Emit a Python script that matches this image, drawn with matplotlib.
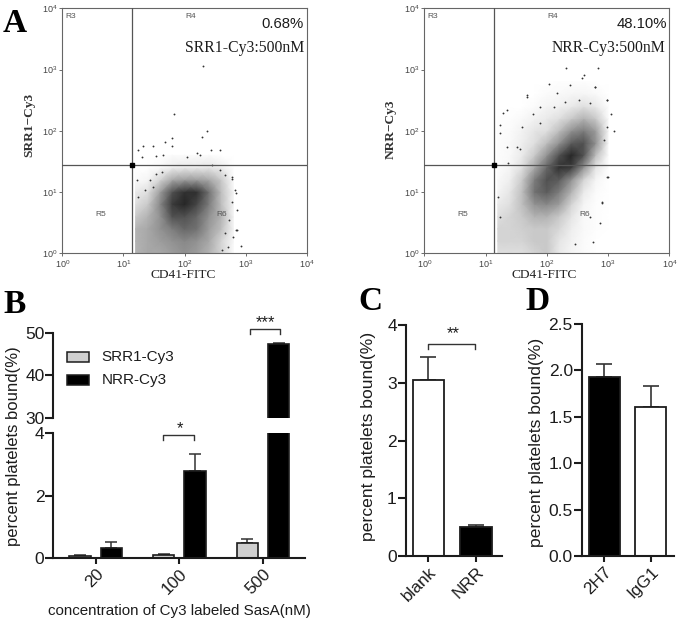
import numpy as np
import matplotlib
matplotlib.use("Agg")
import matplotlib.pyplot as plt
from matplotlib.colors import LinearSegmentedColormap
from matplotlib.patches import Rectangle

W, H = 678, 623
SANS = "Liberation Sans"
SERIF = "Liberation Serif"
INK = "#1c1c1c"

# ---- Panel A: the thousands of flow-cytometry dots cannot be read one by one, so
# the dense clouds are drawn as darkness estimated by eye per grid node (log10 units);
# only the isolated dots around the clouds are listed individually.
a1_log_x = [1.2, 1.4, 1.6, 1.8, 2.0, 2.2, 2.4, 2.6, 2.8]
a1_log_y = [0, .2, .4, .6, .8, 1.0, 1.2, 1.4, 1.6]
a1_density = [
    [.35, .40, .40, .45, .50, .45, .35, .20, .02],
    [.35, .40, .45, .50, .55, .50, .40, .20, .03],
    [.35, .40, .50, .60, .70, .65, .45, .30, .05],
    [.25, .35, .50, .80, .80, .70, .50, .35, .05],
    [.15, .25, .55, .90, 1.0, .85, .60, .30, .05],
    [.10, .15, .45, .80, .95, .95, .65, .30, .05],
    [.02, .05, .20, .40, .45, .45, .40, .25, .02],
    [.00, .00, .03, .08, .10, .10, .12, .08, .00],
    [.00, .00, .00, .02, .02, .02, .02, .00, .00],
]
a1_stray_x = [2.31, 1.82, 2.37, 2.28, 1.79, 1.68, 1.32, 1.49, 1.79, 1.65, 1.24, 2.04, 2.20, 2.44, 2.58,
              2.25, 1.54, 1.30, 2.85, 2.92, 2.77, 2.85,
              2.77, 2.83, 2.78, 2.86, 2.73, 2.80, 2.86, 2.66, 2.72, 2.61,
              1.23, 1.35, 1.24, 1.43, 1.54, 1.63, 1.49, 2.58, 2.66, 2.45]
a1_stray_y = [3.05, 2.27, 1.99, 1.90, 1.89, 1.82, 1.76, 1.76, 1.76, 1.61, 1.69, 1.58, 1.63, 1.69, 1.69,
              1.61, 1.59, 1.58, .38, .12, 1.25, .98,
              1.22, 1.03, .84, .71, .54, .27, .38, .33, .11, .05,
              1.20, 1.03, .92, 1.20, 1.30, 1.33, 1.09, 1.36, 1.28, 1.44]

a2_log_x = [1.2, 1.4, 1.6, 1.8, 2.0, 2.2, 2.4, 2.6, 2.8, 3.0]
a2_log_y = [0, .2, .4, .6, .8, 1.0, 1.2, 1.4, 1.6, 1.8, 2.0, 2.2, 2.4, 2.6, 2.8]
a2_density = [
    [.15, .15, .15, .20, .25, .10, .05, .02, .00, .00],
    [.20, .20, .20, .25, .25, .12, .06, .02, .00, .00],
    [.20, .20, .22, .25, .25, .18, .08, .03, .01, .00],
    [.15, .20, .25, .35, .35, .25, .12, .03, .01, .00],
    [.10, .15, .30, .50, .55, .45, .20, .05, .01, .00],
    [.05, .12, .30, .65, .75, .60, .35, .10, .02, .00],
    [.03, .08, .25, .60, .80, .75, .50, .20, .04, .00],
    [.01, .05, .15, .40, .70, .95, .90, .50, .12, .01],
    [.01, .03, .10, .25, .50, .80, 1.0, .80, .30, .02],
    [.01, .03, .08, .15, .30, .50, .75, .80, .50, .04],
    [.01, .02, .06, .12, .15, .30, .50, .60, .45, .05],
    [.01, .01, .03, .06, .10, .15, .25, .35, .25, .03],
    [.00, .00, .00, .02, .05, .06, .10, .15, .10, .01],
    [.00, .00, .00, .00, .02, .03, .04, .05, .03, .00],
    [.00, .00, .00, .00, .00, .01, .01, .01, .00, .00],
]
a2_stray_x = [2.32, 2.84, 2.58, 2.79, 2.98, 3.09, 2.90, 3.00, 1.24, 1.29, 1.67, 2.16, 1.89, 1.51, 2.76,
              1.35, 1.24, 1.67, 2.03, 2.38, 2.60, 2.79, 2.98, 3.04, 2.98, 2.93, 2.98, 2.90, 2.87,
              2.71, 2.46, 1.21, 1.24, 1.35, 1.57, 1.78, 1.89, 2.11, 2.30, 2.52, 2.71, 1.37, 1.59]
a2_stray_y = [3.02, 3.02, 2.86, 2.71, 2.51, 1.99, .84, 1.25, 1.96, 2.29, 2.56, 2.61, 2.39, 1.74, .19,
              2.34, 2.09, 2.58, 2.77, 2.74, 2.91, 2.72, 2.50, 2.28, 2.07, 1.85, 1.25, .82, .49,
              .60, .16, .92, .60, 1.74, 1.71, 2.28, 2.12, 2.39, 2.47, 2.50, 2.45, 1.47, 2.07]

gate_log_x = 1.146
gate_log_y = 1.44
decades = [1, 10, 100, 1000, 10000]

# ---- Panel B
b_groups = ["20", "100", "500"]
b_srr = [.06, .08, .46]
b_srr_err = [.02, .03, .13]
b_nrr = [.30, 2.80, 47.5]
b_nrr_err = [.19, .53, .30]
b_upper_ticks = [30, 40, 50]
b_lower_ticks = [0, 2, 4]

# ---- Panel C
c_labels = ["blank", "NRR"]
c_vals = [3.05, .51]
c_errs = [.40, .03]
c_ticks = [0, 1, 2, 3, 4]

# ---- Panel D
d_labels = ["2H7", "IgG1"]
d_vals = [1.93, 1.60]
d_errs = [.135, .23]
d_ticks = [0, .5, 1.0, 1.5, 2.0, 2.5]

fig = plt.figure(figsize=(W / 100, H / 100), dpi=100, facecolor="white")


def axes_px(left, top, right, bottom):
    return fig.add_axes([left / W, 1 - bottom / H, (right - left) / W, (bottom - top) / H])


def text_px(x, y, s, **kw):
    kw.setdefault("color", INK)
    kw.setdefault("ha", "center")
    kw.setdefault("va", "center")
    return fig.text(x / W, 1 - y / H, s, **kw)


cloud_map = LinearSegmentedColormap.from_list("cloud", ["#ffffff", "#262626"])


def flow_panel(box, lx, ly, dens, sx, sy, ylab, ylab_x, ylab_y, pct, conc, r_pos, xlab_x, pct_r, conc_r):
    ax = axes_px(*box)
    ax.set_xscale("log")
    ax.set_yscale("log")
    ax.set_xlim(1, 1e4)
    ax.set_ylim(1, 1e4)
    X, Y = np.meshgrid(10.0 ** np.array(lx), 10.0 ** np.array(ly))
    ax.pcolormesh(X, Y, np.array(dens), cmap=cloud_map, vmin=0, vmax=1, shading="gouraud", zorder=1)
    ax.scatter(10.0 ** np.array(sx), 10.0 ** np.array(sy), s=1.8, c="#333333", linewidths=0, zorder=2)
    gx, gy = 10 ** gate_log_x, 10 ** gate_log_y
    ax.axvline(gx, color="#555555", lw=0.9, zorder=3)
    ax.axhline(gy, color="#555555", lw=0.9, zorder=3)
    ax.plot([gx], [gy], "s", ms=2.2, color="black", zorder=4)
    ax.set_xticks(decades)
    ax.set_yticks(decades)
    ax.minorticks_off()
    ax.tick_params(which="major", length=2.5, width=0.6, color="#555555", labelsize=6.5, labelcolor="#444444", pad=1)
    for tl in ax.get_xticklabels() + ax.get_yticklabels():
        tl.set_family(SANS)
    for s in ax.spines.values():
        s.set_color("#666666")
        s.set_linewidth(0.8)
    for (x, y, s) in r_pos:
        text_px(x, y, s, family=SANS, fontsize=6, color="#555555")
    text_px(pct_r, 24, pct, family=SANS, fontsize=10.7, ha="right")
    text_px(conc_r, 47.5, conc, family=SERIF, fontsize=11.3, ha="right")
    text_px(xlab_x, 275, "CD41-FITC", family=SERIF, fontsize=9.6, color="#222222")
    text_px(ylab_x, ylab_y, ylab, family=SERIF, fontsize=9.6, fontweight="bold", rotation=90, color="#333333")


flow_panel((62.3, 8.3, 306.7, 253.3), a1_log_x, a1_log_y, a1_density, a1_stray_x, a1_stray_y,
           "SRR1\u2212Cy3", 29, 125, "0.68%", "SRR1-Cy3:500nM",
           [(71, 16, "R3"), (191, 16, "R4"), (101, 214, "R5"), (222, 214, "R6")], 182.7, 304, 304)
flow_panel((424.3, 8.3, 669.3, 253.3), a2_log_x, a2_log_y, a2_density, a2_stray_x, a2_stray_y,
           "NRR\u2212Cy3", 391, 129, "48.10%", "NRR-Cy3:500nM",
           [(433, 16, "R3"), (553, 16, "R4"), (463, 214, "R5"), (585, 214, "R6")], 544, 667, 665)

SPINE = 1.5


def style_bar_axes(ax):
    ax.patch.set_alpha(0)
    for side in ("top", "right"):
        ax.spines[side].set_visible(False)
    for side in ("left", "bottom"):
        ax.spines[side].set_linewidth(SPINE)
        ax.spines[side].set_color(INK)
    ax.tick_params(axis="y", length=5.6, width=SPINE, color=INK, labelsize=12.5, labelcolor=INK, pad=0.8)
    ax.tick_params(axis="x", length=4.5, width=SPINE, color=INK, labelsize=12.3, labelcolor=INK, pad=1.5)
    for tl in ax.get_xticklabels() + ax.get_yticklabels():
        tl.set_family(SANS)


def rotate_xticks(ax):
    for tl in ax.get_xticklabels():
        tl.set_rotation(45)
        tl.set_ha("right")
        tl.set_va("top")
        tl.set_rotation_mode("anchor")
        tl.set_family(SANS)


def bracket(ax, x0, x1, y, tail):
    ax.plot([x0, x0, x1, x1], [y - tail, y, y, y - tail], color="#333333", lw=1.0, clip_on=False, zorder=5)


# ---- B: broken axis
B_LEFT, B_RIGHT = 53.3, 305
B_TICK0, B_STEP = 95.7, 83.6
b_xlim = ((B_LEFT - B_TICK0) / B_STEP, (B_RIGHT - B_TICK0) / B_STEP)
low = axes_px(B_LEFT, 433.3, B_RIGHT, 557.7)
up = axes_px(B_LEFT, 333.3, B_RIGHT, 417.7)
pos = np.arange(len(b_groups))
width, off = .257, .187
for ax in (low, up):
    ax.bar(pos - off, b_srr, width, color="#cfcfcf", edgecolor=INK, linewidth=1.2, zorder=2)
    ax.bar(pos + off, b_nrr, width, color="black", edgecolor=INK, linewidth=1.2, zorder=2)
    ax.set_xlim(*b_xlim)
for x, v, e in zip(pos - off, b_srr, b_srr_err):
    low.errorbar(x, v, yerr=[[0], [e]], color="#333333", capsize=4.2, elinewidth=1.1, capthick=1.1, zorder=1)
for x, v, e in zip(pos + off, b_nrr, b_nrr_err):
    (up if v > 4 else low).errorbar(x, v, yerr=[[0], [e]], color="#333333", capsize=4.2, elinewidth=1.1, capthick=1.1, zorder=1)
low.set_ylim(0, 4)
up.set_ylim(30, 50)
low.set_yticks(b_lower_ticks)
up.set_yticks(b_upper_ticks)
low.set_xticks(pos, b_groups)
up.set_xticks([])
style_bar_axes(low)
style_bar_axes(up)
up.spines["bottom"].set_visible(False)
rotate_xticks(low)
bracket(low, .80, 1.18, 3.94, .16)
bracket(up, 1.84, 2.20, 51.1, 1.2)
text_px(180, 429, "*", family=SANS, fontsize=12)
text_px(265.7, 323, "***", family=SANS, fontsize=12)
text_px(14, 446, "percent platelets bound(%)", family=SANS, fontsize=12, rotation=90)
text_px(179, 611, "concentration of Cy3 labeled SasA(nM)", family=SANS, fontsize=10.9)
for top, fc, lab in [(351.7, "#cfcfcf", "SRR1-Cy3"), (375, "black", "NRR-Cy3")]:
    fig.add_artist(Rectangle((66.7 / W, 1 - (top + 10) / H), 22.6 / W, 10 / H, transform=fig.transFigure,
                             facecolor=fc, edgecolor=INK, linewidth=1.1))
    text_px(101.7, top + 5, lab, family=SANS, fontsize=11, ha="left")


# ---- C and D
def two_bar(box, vals, errs, labels, ticks, ylim, colors, tick0, step, fmt):
    ax = axes_px(*box)
    p = np.arange(len(vals))
    ax.bar(p, vals, .66, color=colors, edgecolor=INK, linewidth=1.3, zorder=2)
    for x, v, e in zip(p, vals, errs):
        ax.errorbar(x, v, yerr=[[0], [e]], color="#333333", capsize=5.8, elinewidth=1.2, capthick=1.2, zorder=1)
    ax.set_xlim((box[0] - tick0) / step, (box[2] - tick0) / step)
    ax.set_ylim(*ylim)
    ax.set_yticks(ticks, [fmt.format(t) for t in ticks])
    ax.set_xticks(p, labels)
    style_bar_axes(ax)
    rotate_xticks(ax)
    return ax


c_ax = two_bar((405.7, 325, 501.7, 556.3), c_vals, c_errs, c_labels, c_ticks, (0, 4),
               ["white", "black"], 428.3, 47.7, "{:d}")
bracket(c_ax, 0, .97, 3.68, .09)
text_px(453, 334, "**", family=SANS, fontsize=12)
text_px(368, 436.7, "percent platelets bound(%)", family=SANS, fontsize=12.6, rotation=90)

d_ax = two_bar((581.7, 323.7, 674.3, 556.3), d_vals, d_errs, d_labels, d_ticks, (0, 2.5),
               ["black", "white"], 604.3, 46.4, "{:.1f}")
text_px(537, 442.5, "percent platelets bound(%)", family=SANS, fontsize=12.6, rotation=90)

# ---- Panel letters
for x, y, s in [(3, 32, "A"), (3, 313, "B"), (358, 310, "C"), (525, 310, "D")]:
    text_px(x, y, s, family=SERIF, fontsize=24, fontweight="bold", ha="left", va="baseline", color="black")

fig.savefig("out.png", dpi=100)
